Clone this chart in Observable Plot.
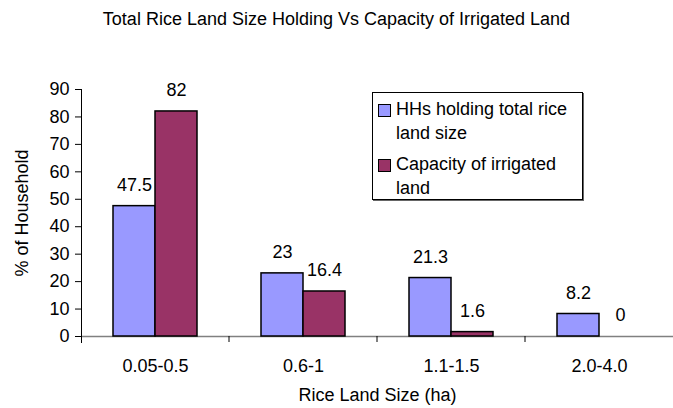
<!DOCTYPE html>
<html>
<head>
<meta charset="utf-8">
<script src="https://cdn.jsdelivr.net/npm/d3@7"></script>
<script src="https://cdn.jsdelivr.net/npm/@observablehq/plot@0.6"></script>
<style>
  html, body { margin: 0; padding: 0; background: #fff; }
  #wrap { position: relative; width: 673px; height: 408px; font-family: "Liberation Sans", Arial, sans-serif; color: #000; }
  #title { position: absolute; left: 0; width: 673px; top: 9px; text-align: center; font-size: 18px; }
  #legend { position: absolute; left: 372px; top: 92px; width: 211px; height: 108px; border: 1px solid #000; box-shadow: 1px 1px 0 #666; background: #fff; font-size: 18px; box-sizing: border-box; }
  .item { position: absolute; left: 5px; line-height: 24px; }
  .sw { position: absolute; left: 0; top: 7px; width: 11px; height: 11px; border: 1px solid #000; }
  .lbl { position: absolute; left: 18px; width: 190px; }
</style>
</head>
<body>
<div id="wrap">
  <div id="title">Total Rice Land Size Holding Vs Capacity of Irrigated Land</div>
  <div id="chart"></div>
  <div id="legend"></div>
</div>
<script>
const categories = ["0.05-0.5", "0.6-1", "1.1-1.5", "2.0-4.0"];
const seriesNames = ["HHs holding total rice land size", "Capacity of irrigated land"];
const holdingValues = [47.5, 23, 21.3, 8.2];
const irrigatedValues = [82, 16.4, 1.6, 0];
const seriesColors = ["#9999FF", "#993366"];
const yTicks = [0, 10, 20, 30, 40, 50, 60, 70, 80, 90];
const xTitle = "Rice Land Size (ha)";
const yTitle = "% of Household";

const data = categories.flatMap((c, i) => [
  {cat: c, series: seriesNames[0], value: holdingValues[i]},
  {cat: c, series: seriesNames[1], value: irrigatedValues[i]}
]);

const plot = Plot.plot({
  width: 673,
  height: 408,
  marginLeft: 80,
  marginRight: 0,
  marginTop: 89,
  marginBottom: 72,
  style: {fontFamily: "'Liberation Sans', Arial, sans-serif", fontSize: "18px", color: "#000", background: "transparent", overflow: "visible"},
  fx: {domain: categories, padding: 0, axis: null},
  x: {domain: seriesNames, paddingInner: 0, paddingOuter: 0.724, axis: null},
  y: {domain: [0, 90], axis: null},
  color: {domain: seriesNames, range: seriesColors},
  marks: [
    Plot.ruleY([0], {stroke: "#808080", strokeWidth: 1.5}),
    Plot.barY(data, {fx: "cat", x: "series", y: "value", fill: "series", stroke: "#000", strokeWidth: 1.5}),
    Plot.text(data, {fx: "cat", x: "series", y: "value", text: d => String(d.value), dy: -21, fontSize: 18}),
    Plot.axisY({ticks: yTicks, tickSize: 6, tickPadding: 6, label: yTitle, labelAnchor: "center", labelArrow: "none", labelOffset: 66, stroke: "#000"}),
    Plot.axisFx({anchor: "bottom", tickSize: 0, tickPadding: 23, label: xTitle, labelAnchor: "center", labelOffset: 64}),
    Plot.frame({anchor: "left", facetAnchor: "left", stroke: "#000", insetBottom: -6})
  ]
});
document.getElementById("chart").appendChild(plot);

// boundary ticks between categories, placed from the fx scale
const fx = plot.scale("fx");
const y = plot.scale("y");
const svg = d3.select(plot.tagName === "svg" ? plot : plot.querySelector("svg"));
const y0 = y.apply(0);
categories.slice(1).forEach(c => {
  const px = fx.apply(c);
  svg.append("line").attr("x1", px).attr("x2", px).attr("y1", y0).attr("y2", y0 + 6).attr("stroke", "#000");
});

// legend
const legend = document.getElementById("legend");
const tops = [4, 59];
seriesNames.forEach((s, i) => {
  const item = document.createElement("div");
  item.className = "item";
  item.style.top = tops[i] + "px";
  item.innerHTML = `<div class="sw" style="background:${seriesColors[i]}"></div><div class="lbl">${s}</div>`;
  legend.appendChild(item);
});
</script>
</body>
</html>
